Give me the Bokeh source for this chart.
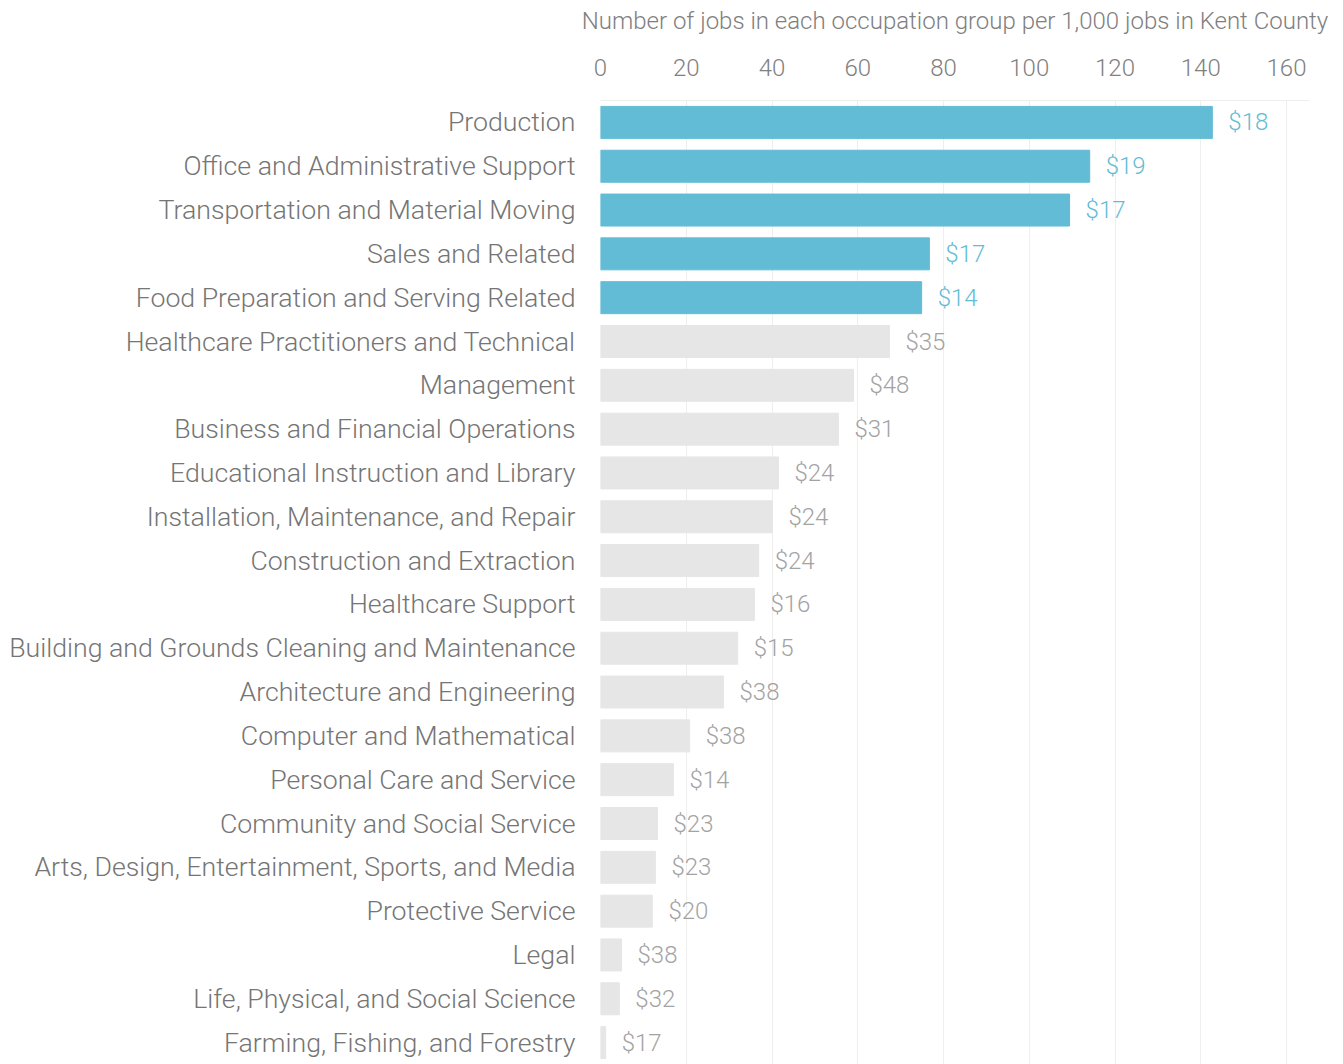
from bokeh.plotting import figure
from bokeh.models import ColumnDataSource, FactorRange, Range1d, FixedTicker
from bokeh.core.properties import value
from bokeh.embed import file_html
from bokeh.resources import INLINE

occupations = [
    "Production",
    "Office and Administrative Support",
    "Transportation and Material Moving",
    "Sales and Related",
    "Food Preparation and Serving Related",
    "Healthcare Practitioners and Technical",
    "Management",
    "Business and Financial Operations",
    "Educational Instruction and Library",
    "Installation, Maintenance, and Repair",
    "Construction and Extraction",
    "Healthcare Support",
    "Building and Grounds Cleaning and Maintenance",
    "Architecture and Engineering",
    "Computer and Mathematical",
    "Personal Care and Service",
    "Community and Social Service",
    "Arts, Design, Entertainment, Sports, and Media",
    "Protective Service",
    "Legal",
    "Life, Physical, and Social Science",
    "Farming, Fishing, and Forestry",
]
jobs_per_1000 = [142.7, 114.1, 109.4, 76.7, 74.9, 67.4, 59.0, 55.5, 41.5, 40.1, 36.9,
                 35.9, 32.0, 28.7, 20.8, 17.0, 13.3, 12.8, 12.1, 4.9, 4.4, 1.2]
wages = [18, 19, 17, 17, 14, 35, 48, 31, 24, 24, 24, 16, 15, 38, 38, 14, 23, 23, 20, 38, 32, 17]
highlighted = [True] * 5 + [False] * 17
x_ticks = [0, 20, 40, 60, 80, 100, 120, 140, 160]
title_text = "Number of jobs in each occupation group per 1,000 jobs in Kent County"

FONT = "Roboto Light"
BLUE = "#62bcd5"
GREY_BAR = "#e6e6e6"
X_END = 165.36

src = ColumnDataSource(dict(
    occ=occupations,
    val=jobs_per_1000,
    lbl=["$%d" % w for w in wages],
    bar_color=[BLUE if h else GREY_BAR for h in highlighted],
    lbl_color=[BLUE if h else "#a3a3a3" for h in highlighted],
))

p = figure(
    width=1335, height=1064,
    y_range=FactorRange(*reversed(occupations), range_padding=0),
    x_range=Range1d(0, X_END),
    x_axis_location="above",
    output_backend="svg", toolbar_location=None,
    min_border_left=600, min_border_right=26, min_border_top=100, min_border_bottom=0,
)

p.hbar(y="occ", left=0, right="val", height=0.73, color="bar_color", source=src)
p.text(x="val", y="occ", text="lbl", x_offset=16, text_baseline="middle", text_align="left",
       text_color="lbl_color", text_font=value(FONT), text_font_size="24px", source=src)

xa = p.xaxis[0]
xa.ticker = FixedTicker(ticks=x_ticks)
xa.axis_line_color = "#eeeeee"
xa.major_tick_line_color = None
xa.minor_tick_line_color = None
xa.major_label_standoff = 19
xa.major_label_text_font = FONT
xa.major_label_text_font_size = "24px"
xa.major_label_text_color = "#808080"
xa.axis_label = title_text
xa.axis_label_standoff = 21
xa.axis_label_text_font = FONT
xa.axis_label_text_font_size = "24px"
xa.axis_label_text_font_style = "normal"
xa.axis_label_text_color = "#808080"

ya = p.yaxis[0]
ya.axis_line_color = None
ya.major_tick_line_color = None
ya.minor_tick_line_color = None
ya.major_tick_out = 0
ya.major_label_standoff = 25
ya.major_label_text_font = FONT
ya.major_label_text_font_size = "26.7px"
ya.major_label_text_color = "#757575"

p.xgrid.grid_line_color = "#eeeeee"
p.xgrid.ticker = FixedTicker(ticks=x_ticks)
p.ygrid.grid_line_color = None
p.outline_line_color = None

open("out.html", "w").write(file_html(p, INLINE))
